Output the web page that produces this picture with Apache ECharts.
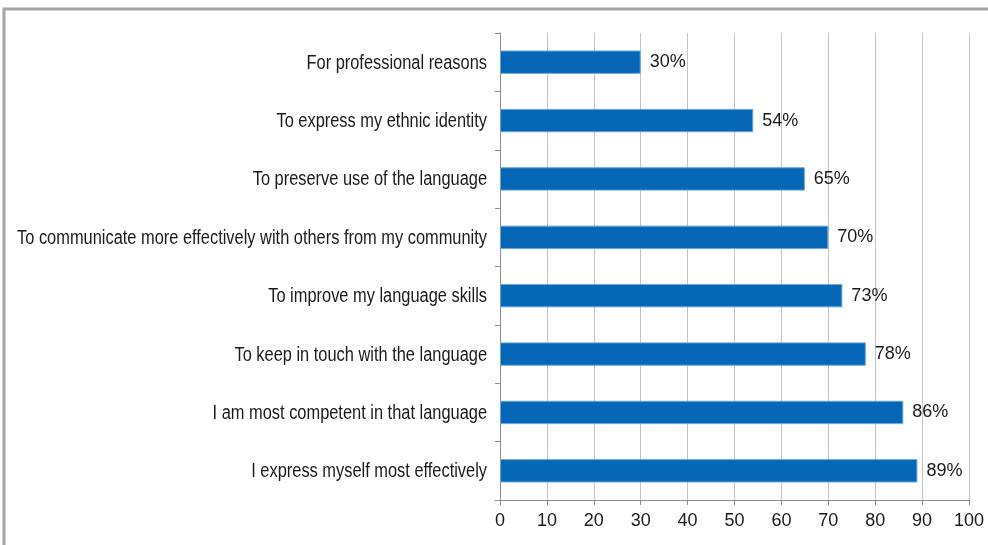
<!DOCTYPE html>
<html><head><meta charset="utf-8">
<script src="https://cdn.jsdelivr.net/npm/echarts@6/dist/echarts.min.js"></script>
<style>html,body{margin:0;padding:0;background:#fff}#c{width:988px;height:545px}</style>
</head><body><div id="c"></div>
<script>
const categories = [
  "For professional reasons",
  "To express my ethnic identity",
  "To preserve use of the language",
  "To communicate more effectively with others from my community",
  "To improve my language skills",
  "To keep in touch with the language",
  "I am most competent in that language",
  "I express myself most effectively"
];
const values = [30, 54, 65, 70, 73, 78, 86, 89];
const xTicks = [0,10,20,30,40,50,60,70,80,90,100];
const FONT = '"Liberation Sans", Arial, sans-serif';
const chart = echarts.init(document.getElementById('c'), null, {renderer:'canvas'});
chart.setOption({
  animation:false,
  backgroundColor:'#fff',
  grid:{left:500, right:19, top:33, bottom:45, containLabel:false},
  xAxis:{type:'value', min:xTicks[0], max:xTicks[xTicks.length-1], interval:10,
    axisLine:{show:true, lineStyle:{color:'#8c8c8c'}},
    axisTick:{show:true, length:5, lineStyle:{color:'#8c8c8c'}},
    axisLabel:{color:'#1a1a1a', fontSize:18, fontFamily:FONT, margin:12},
    splitLine:{show:true, lineStyle:{color:'#c4c4c4', width:1}}},
  yAxis:{type:'category', data:categories, inverse:true,
    axisLine:{show:true, lineStyle:{color:'#8c8c8c'}},
    axisTick:{show:true, length:5, lineStyle:{color:'#8c8c8c'}},
    axisLabel:{show:false}},
  series:[{type:'bar', data:values, barCategoryGap:'60%',
    itemStyle:{color:'#0567b6', borderColor:'#6aa6dc', borderWidth:1},
    label:{show:true, position:'right', distance:9, formatter:'{c}%', color:'#1a1a1a', fontSize:18, fontFamily:FONT}}]
});
// Category labels drawn as condensed text (no narrow font installed), placed via the axis scale
const graphics = [{type:'rect', shape:{x:4,y:9,width:1000,height:560}, style:{fill:'none', stroke:'#a6a6a6', lineWidth:3}, silent:true}];
categories.forEach(function(name, i){
  const p = chart.convertToPixel({gridIndex:0}, [0, i]);
  graphics.push({type:'text', x:p[0]-13, y:p[1]+1, scaleX:0.82, silent:true,
    style:{text:name, x:0, y:0, align:'right', verticalAlign:'middle', fill:'#1a1a1a', font:'20px ' + FONT}});
});
chart.setOption({graphic:graphics});
</script></body></html>
